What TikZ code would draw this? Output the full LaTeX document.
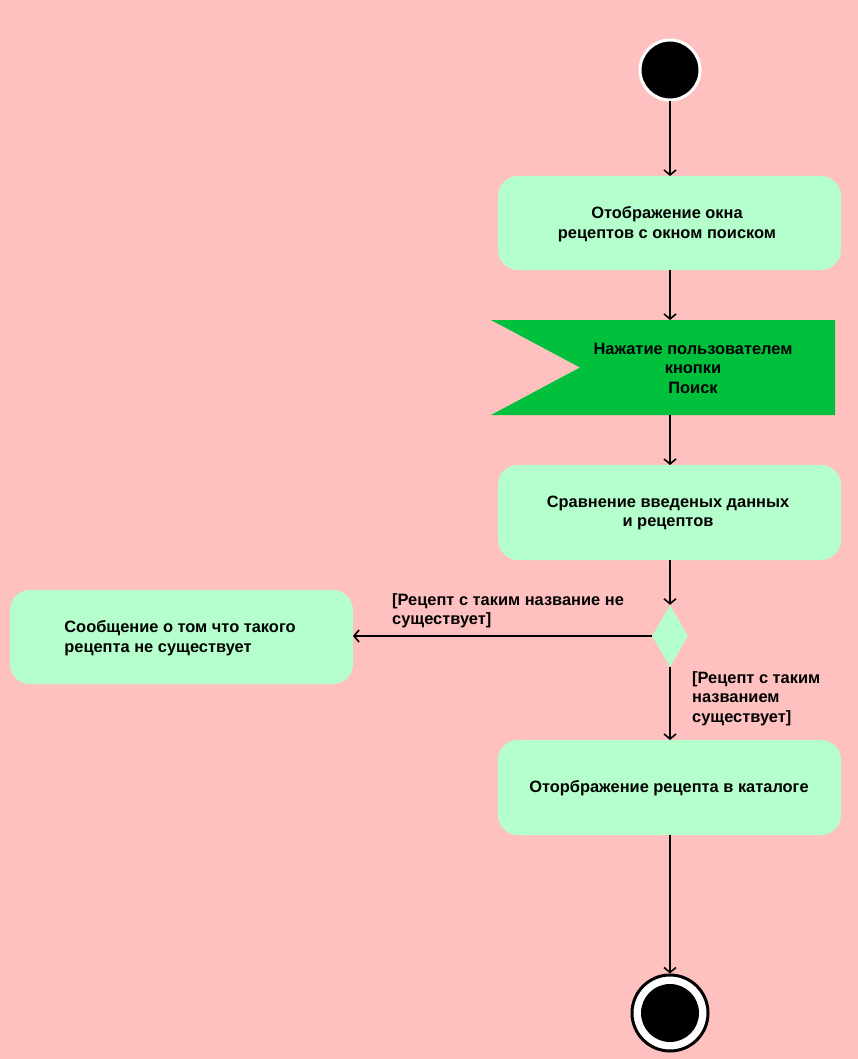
\documentclass[tikz,border=0pt]{standalone}
\usepackage{fontspec}
\setmainfont{Liberation Sans}
\usetikzlibrary{arrows.meta,shapes.geometric}
\definecolor{bgpink}{RGB}{255,192,192}
\definecolor{actgreen}{RGB}{180,255,204}
\definecolor{sigreen}{RGB}{0,192,60}
\begin{document}
\begin{tikzpicture}[x=1pt,y=-1pt,
  flow/.style={line width=2pt,-{Straight Barb[length=5pt,width=12pt,line width=1.6pt]}},
  action/.style={fill=actgreen,rounded corners=20pt,draw=none},
  lbl/.style={font=\bfseries\fontsize{16.4}{19.5}\selectfont,align=center,inner sep=0pt},
  guard/.style={font=\bfseries\fontsize{16.4}{19.5}\selectfont,align=left,inner sep=0pt,anchor=north west}]
% canvas
\fill[bgpink] (0,0) rectangle (858,1059);
\useasboundingbox (0,0) rectangle (858,1059);

% initial node
\node (start) [circle,fill=black,draw=white,line width=3pt,minimum size=60pt,inner sep=0pt] at (670,70) {};

% action: search window
\fill[action] (498,176) rectangle (841,270);
\coordinate (a1n) at (670,176);
\coordinate (a1s) at (670,270);
\node (t1) [lbl] at (667,224) {Отображение окна\\рецептов с окном поиском};

% accept event: search button
\fill[sigreen] (491,320) -- (835,320) -- (835,415) -- (491,415) -- (580,367.5) -- cycle;
\coordinate (evn) at (670,320);
\coordinate (evs) at (670,415);
\node (tev) [lbl] at (693,368) {Нажатие пользователем\\кнопки\\Поиск};

% action: compare
\fill[action] (498,465) rectangle (841,560);
\coordinate (a2n) at (670,465);
\coordinate (a2s) at (670,560);
\node (t2) [lbl] at (668,513) {Сравнение введеных данных\\и рецептов};

% decision
\node (dec) [diamond,fill=actgreen,minimum width=36pt,minimum height=62pt,inner sep=0pt,aspect=0.58] at (670,636) {};

% action: not found
\fill[action] (10,590) rectangle (353,684);
\coordinate (a3e) at (353,636);
\node (t3) [lbl,align=left] at (180,638) {Сообщение о том что такого\\рецепта не существует};

% action: show recipe
\fill[action] (498,740) rectangle (841,835);
\coordinate (a4n) at (670,740);
\coordinate (a4s) at (670,835);
\node (t4) [lbl] at (669,788) {Оторбражение рецепта в каталоге};

% final node
\node (fin) [circle,fill=white,draw=black,line width=3pt,minimum size=76pt,inner sep=0pt] at (670,1013) {};
\node (finc) [circle,fill=black,minimum size=58pt,inner sep=0pt] at (670,1013) {};

% flows
\draw[flow] (start.south) -- (a1n);
\draw[flow] (a1s) -- (evn);
\draw[flow] (evs) -- (a2n);
\draw[flow] (a2s) -- (dec.north);
\draw[flow] (dec.west) -- (a3e);
\draw[flow] (dec.south) -- (a4n);
\draw[flow] (a4s) -- (fin.north);

% guards
\node (g1) [guard] at (392,593) {[Рецепт с таким название не\\существует]};
\node (g2) [guard] at (692,671) {[Рецепт с таким\\названием\\существует]};
\end{tikzpicture}
\end{document}
